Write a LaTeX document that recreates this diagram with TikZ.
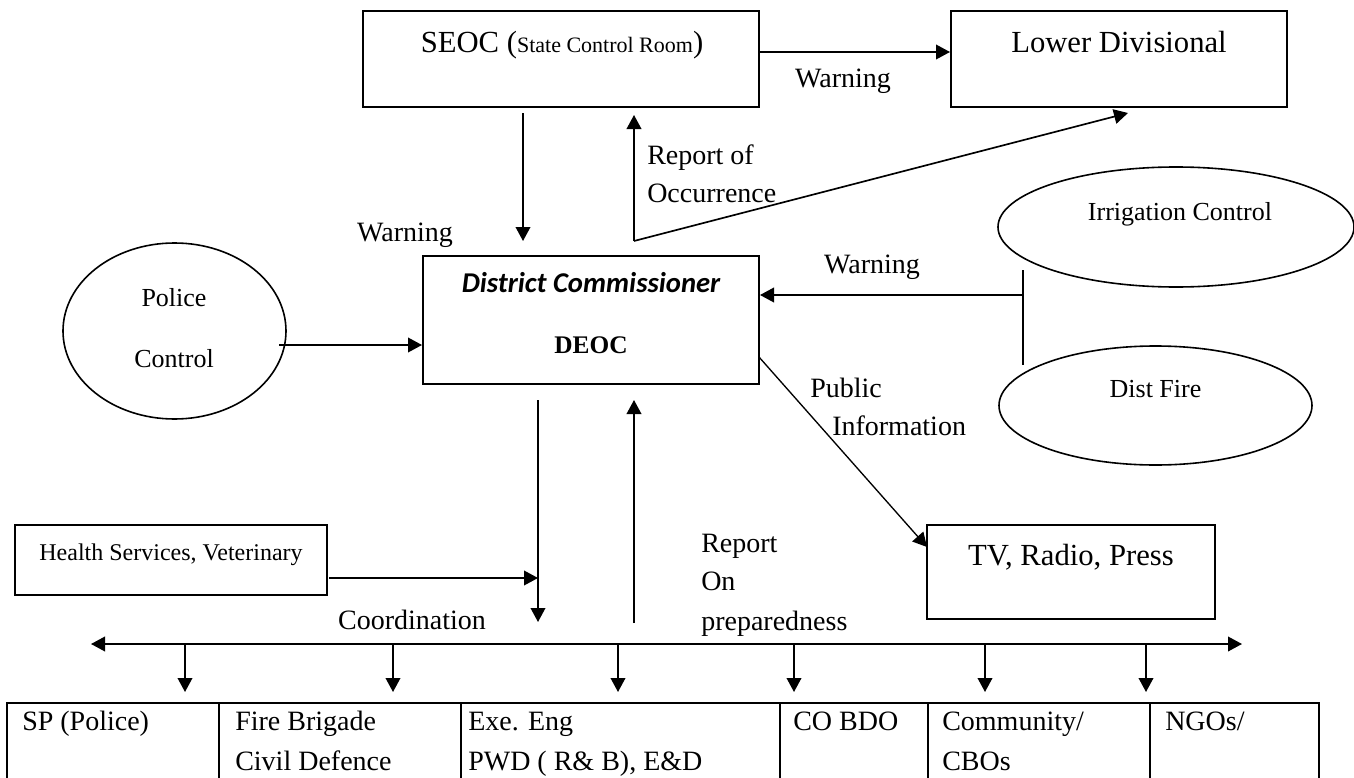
\documentclass[tikz,border=0pt]{standalone}
\usepackage{fontspec}
\setmainfont{Liberation Serif}
\newfontfamily\calibfont{Carlito}
\usetikzlibrary{arrows.meta,shapes.geometric}
\tikzset{
  box/.style={draw, line width=1.5pt, rectangle, inner sep=0pt},
  oval/.style={draw, line width=1.2pt, ellipse, inner sep=0pt},
  arr/.style={line width=1.25pt, -{Triangle[length=10.5pt,width=11pt]}},
  twoarr/.style={line width=1.25pt, {Triangle[length=10.5pt,width=11pt]}-{Triangle[length=10.5pt,width=11pt]}},
  plain/.style={line width=1.25pt},
  tline/.style={line width=1.5pt},
  txt/.style={inner sep=0pt, font=\fontsize{21}{25}\selectfont},
  txtbig/.style={inner sep=0pt, font=\fontsize{23}{27}\selectfont},
  txtsm/.style={inner sep=0pt, font=\fontsize{19.5}{23}\selectfont},
  txtxs/.style={inner sep=0pt, font=\fontsize{18}{22}\selectfont},
}
\begin{document}
\begin{tikzpicture}[x=0.75pt,y=-0.75pt]
\useasboundingbox (0,0) rectangle (1354,778);
\fill[white] (0,0) rectangle (1354,778);

% boxes and ovals
\node[box, minimum width=297pt, minimum height=72pt] (seoc) at (561,59) {};
\node[box, minimum width=252pt, minimum height=72pt] (lower) at (1119,59) {};
\node[box, minimum width=252pt, minimum height=96pt] (deoc) at (591,320) {};
\node[box, minimum width=216pt, minimum height=70.5pt] (tv) at (1071,572) {};
\node[box, minimum width=234pt, minimum height=52.5pt] (health) at (171,560) {};
\node[oval, minimum width=167.25pt, minimum height=132pt] (police) at (174.5,331) {};
\node[oval, minimum width=267pt, minimum height=90pt] (irr) at (1176,227) {};
\node[oval, minimum width=234.75pt, minimum height=89.25pt] (fire) at (1155.5,405.5) {};

% texts
\node[txtbig, anchor=base] (seoct) at (562,52) {SEOC (\fontsize{16.5}{20}\selectfont State Control Room\fontsize{23}{27}\selectfont)};
\node[txtbig, anchor=base] (lowert) at (1119,52) {Lower Divisional};
\node[txt, anchor=base] (warn1) at (843,87) {Warning};
\node[txt, anchor=base west] (rep1) at (647,164) {Report of};
\node[txt, anchor=base west] (rep2) at (647,202) {Occurrence};
\node[txt, anchor=base] (warn2) at (405,241) {Warning};
\node[inner sep=0pt, font=\calibfont\bfseries\itshape\fontsize{21.5}{25}\selectfont, anchor=base] (dct) at (591,292) {District Commissioner};
\node[inner sep=0pt, font=\bfseries\fontsize{19}{23}\selectfont, anchor=base] (deoct) at (591,353) {DEOC};
\node[txt, anchor=base] (warn3) at (872,273) {Warning};
\node[txtsm, anchor=base] (pol1) at (174,306) {Police};
\node[txtsm, anchor=base] (pol2) at (174,367) {Control};
\node[txtsm, anchor=base] (irrt) at (1180,220) {Irrigation Control};
\node[txtsm, anchor=base] (firet) at (1155.5,397) {Dist Fire};
\node[txt, anchor=base west] (pub1) at (810,397) {Public};
\node[txt, anchor=base west] (pub2) at (832,435) {Information};
\node[txtbig, anchor=base] (tvt) at (1071,565) {TV, Radio, Press};
\node[txtxs, anchor=base] (healtht) at (171,560) {Health Services, Veterinary};
\node[txt, anchor=base west] (prep1) at (701,552) {Report};
\node[txt, anchor=base west] (prep2) at (701,590) {On};
\node[txt, anchor=base west] (prep3) at (701,630) {preparedness};
\node[txt, anchor=base] (coord) at (412,629) {Coordination};

% connectors
\draw[arr] (seoc.east |- seoct.base) -- (lower.west |- seoct.base);
\coordinate (sdtop) at (523,113);
\coordinate (sdbot) at (523,241);
\draw[arr] (sdtop) -- (sdbot);
\coordinate (rj) at (634,241);
\coordinate (rtop) at (634,115);
\coordinate (ltip) at (1128,113);
\draw[arr] (rj) -- (rtop);
\draw[arr] (rj) -- (ltip);
\coordinate (pst) at (279,345);
\draw[arr] (pst) -- (deoc.west |- pst);
\coordinate (vtop) at (1023,270);
\coordinate (vbot) at (1023,365);
\coordinate (vmid) at (1023,295);
\draw[plain] (vtop) -- (vbot);
\draw[arr] (vmid) -- (deoc.east |- vmid);
\coordinate (ds) at (759,357);
\coordinate (tvtip) at (927,547);
\draw[line width=1pt, -{Triangle[length=10.5pt,width=11pt]}] (ds) -- (tvtip);
\coordinate (d1) at (538,400);
\coordinate (d2) at (538,622);
\draw[arr] (d1) -- (d2);
\coordinate (hs) at (329,578);
\draw[arr] (hs) -- (d1 |- hs);
\coordinate (u1) at (634,623);
\coordinate (u2) at (634,400);
\draw[arr] (u1) -- (u2);
\coordinate (cl) at (91,644);
\coordinate (cr) at (1242,644);
\draw[twoarr] (cl) -- (cr);
\foreach \x [count=\i] in {185,393,618,794,985,1146} {
  \coordinate (t\i) at (\x,644);
  \coordinate (b\i) at (\x,692);
  \draw[arr] (t\i) -- (b\i);
}

% bottom table
\draw[tline] (7,703) rectangle (1319,782);
\foreach \x in {219,461,780,928,1150} \draw[tline] (\x,703) -- (\x,782);
\node[txt, anchor=base west] (c1a) at (22,730) {SP (Police)};
\node[txt, anchor=base west] (c2a) at (235,730) {Fire Brigade};
\node[txt, anchor=base west] (c2b) at (235,770) {Civil Defence};
\node[txt, anchor=base west] (c3a) at (468,730) {Exe. Eng};
\node[txt, anchor=base west] (c3b) at (468,770) {PWD ( R\& B), E\&D};
\node[txt, anchor=base west] (c4a) at (793,730) {CO BDO};
\node[txt, anchor=base west] (c5a) at (942,730) {Community/};
\node[txt, anchor=base west] (c5b) at (942,770) {CBOs};
\node[txt, anchor=base west] (c6a) at (1165,730) {NGOs/};
\end{tikzpicture}
\end{document}
